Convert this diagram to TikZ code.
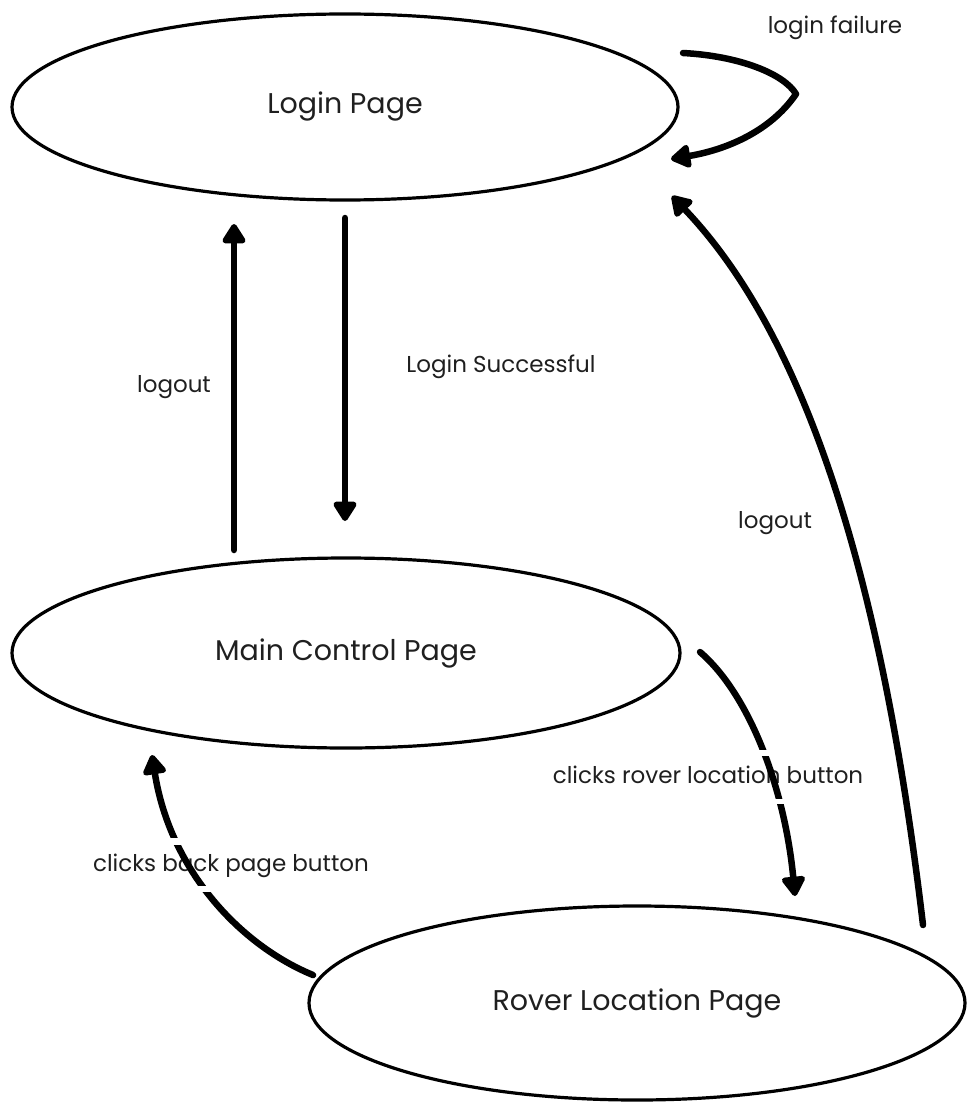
\documentclass[tikz,border=0pt]{standalone}
\usepackage{fontspec}
\setmainfont{Poppins}
\usetikzlibrary{shapes.geometric,arrows.meta,calc}

\begin{document}
\begin{tikzpicture}[x=1pt,y=-1pt,
  state/.style={ellipse, draw, line width=3.2pt, inner sep=0pt,
    font=\fontsize{28.5}{32}\selectfont, text=black!88},
  flow/.style={line width=6.5pt, line cap=round, line join=round,
    -{Triangle[width=26pt,length=22pt,round]}},
  lbl/.style={font=\fontsize{23}{26}\selectfont, text=black!88},
  cutlbl/.style={lbl, fill=white, text height=17pt, text depth=5pt,
    inner xsep=1pt, inner ysep=16pt},
]
\useasboundingbox (0,0) rectangle (966,1102);

% states
\node[state, minimum width=666pt, minimum height=186pt] (login) at (345,107) {Login Page};
\node[state, minimum width=668pt, minimum height=190pt] (main) at (346,653) {Main Control Page};
\node[state, minimum width=656pt, minimum height=194pt] (rover) at (637,1003) {Rover Location Page};

% free ends of the transitions
\coordinate (lfS) at (683,53);
\coordinate (lfM) at (796,94);
\coordinate (lfE) at (671,159);
\coordinate (loA) at (234,550);
\coordinate (loB) at (234,224);
\coordinate (lsA) at (345,218);
\coordinate (lsB) at (345,521);
\coordinate (roA) at (923,925);
\coordinate (roB) at (672,196);
\coordinate (rlA) at (700,652);
\coordinate (rlB) at (795,896);
\coordinate (bpA) at (313,975);
\coordinate (bpB) at (152,755);

% transitions
\draw[flow] (lfS) .. controls (740,56) and (784,74) .. (lfM)
            .. controls (770,132) and (725,150) .. (lfE);
\draw[flow] (loA) -- (loB);
\draw[flow] (lsA) -- (lsB);
\draw[flow] (roA) .. controls (880,560) and (800,330) .. (roB);
\draw[flow] (rlA) .. controls (750,695) and (785,790) .. (rlB);
\draw[flow] (bpA) .. controls (240,945) and (170,870) .. (bpB);

% plain labels
\node[lbl] (lfail) at (835,28) {login failure};
\node[lbl] (lout1) at (174,387) {logout};
\node[lbl] (lsucc) at (501,367) {Login Successful};
\node[lbl] (lout2) at (775,523) {logout};

% labels that cut through their arrow
\node[cutlbl] (lrover) at (708,777) {clicks rover location button};
\begin{scope}
  \clip ($(lrover.center)+(-300,-21)$) rectangle ($(lrover.center)+(300,21)$);
  \draw[flow] (rlA) .. controls (750,695) and (785,790) .. (rlB);
\end{scope}

\node[cutlbl] (lback) at (231,865) {clicks back page button};
\begin{scope}
  \clip ($(lback.center)+(-300,-20)$) rectangle ($(lback.center)+(300,20)$);
  \draw[flow] (bpA) .. controls (240,945) and (170,870) .. (bpB);
\end{scope}
\end{tikzpicture}
\end{document}
